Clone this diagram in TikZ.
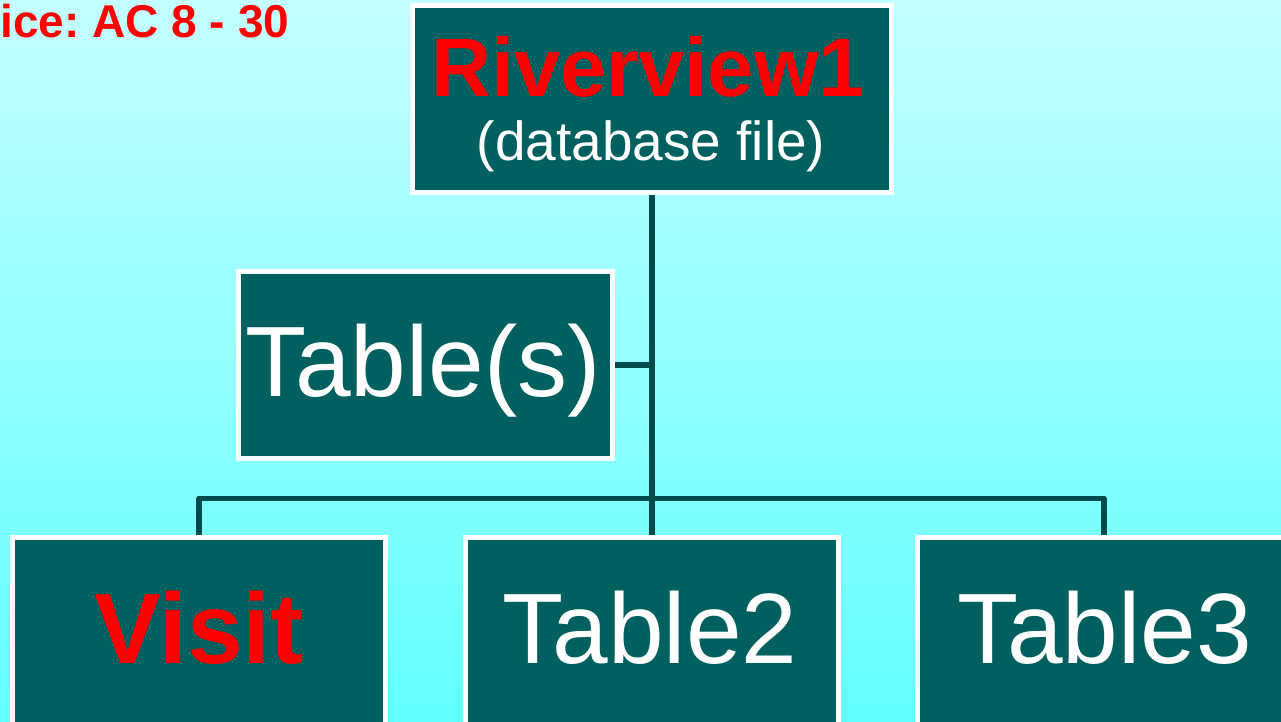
\documentclass[tikz,border=0pt]{standalone}
\usepackage{fontspec}
\setmainfont{Liberation Sans}
\frenchspacing
\definecolor{bgtop}{HTML}{C4FFFF}
\definecolor{bgbottom}{HTML}{62FFFF}
\definecolor{boxfill}{HTML}{006060}
\definecolor{wire}{HTML}{004C4C}
\definecolor{hot}{HTML}{FF0000}
\tikzset{
  tablebox/.style={draw=white, fill=boxfill, line width=5pt, rectangle,
    inner sep=0pt, minimum height=187pt},
  link/.style={draw=wire, line width=5.5pt, line join=round},
  bigtext/.style={anchor=base, inner sep=0pt, text=white,
    font=\fontsize{100}{100}\selectfont},
  bigred/.style={anchor=base, inner sep=0pt, text=hot,
    font=\bfseries\fontsize{100}{100}\selectfont}
}
\begin{document}
\begin{tikzpicture}[x=1pt,y=1pt]
  \useasboundingbox (0,0) rectangle (1281,721);
  \clip (0,0) rectangle (1281,721);
  \shade[top color=bgtop, bottom color=bgbottom] (0,0) rectangle (1281,721);

  % heading, cut off at the left edge
  \node[anchor=base east, inner sep=0pt, text=hot,
        font=\bfseries\fontsize{46}{46}\selectfont] (head) at (289.5,683) {ice: AC 8 - 30};

  % boxes
  \node[tablebox, minimum width=479pt] (db) at (652,622) {};
  \node[tablebox, minimum width=374pt] (tabs) at (425.5,356) {};
  \node[tablebox, minimum width=373pt] (visit) at (199,90) {};
  \node[tablebox, minimum width=373pt] (t2) at (652,90) {};
  \node[tablebox, minimum width=373pt] (t3) at (1104,90) {};

  % connectors
  \coordinate (bus) at (652,222.5);
  \draw[link] (db.south) -- (t2.north);
  \draw[link] (tabs.east) -- (tabs.east -| db.south);
  \draw[link] (visit.north) -- (visit.north |- bus) -- (t3.north |- bus) -- (t3.north);

  % labels
  \node[anchor=base, inner sep=0pt, text=hot,
        font=\bfseries\fontsize{83}{83}\selectfont] (dbname) at (648,624) {Riverview1};
  \node[anchor=base, inner sep=0pt, text=white,
        font=\fontsize{55}{55}\selectfont] (dbkind) at (651,560.5) {(database file)};
  \node[bigtext] (tabslabel) at (423,324.3) {Table(s)};
  \node[bigred] (visitlabel) at (199,58) {Visit};
  \node[bigtext] (t2label) at (650,58) {Table2};
  \node[bigtext] (t3label) at (1104.5,58) {Table3};
\end{tikzpicture}
\end{document}
